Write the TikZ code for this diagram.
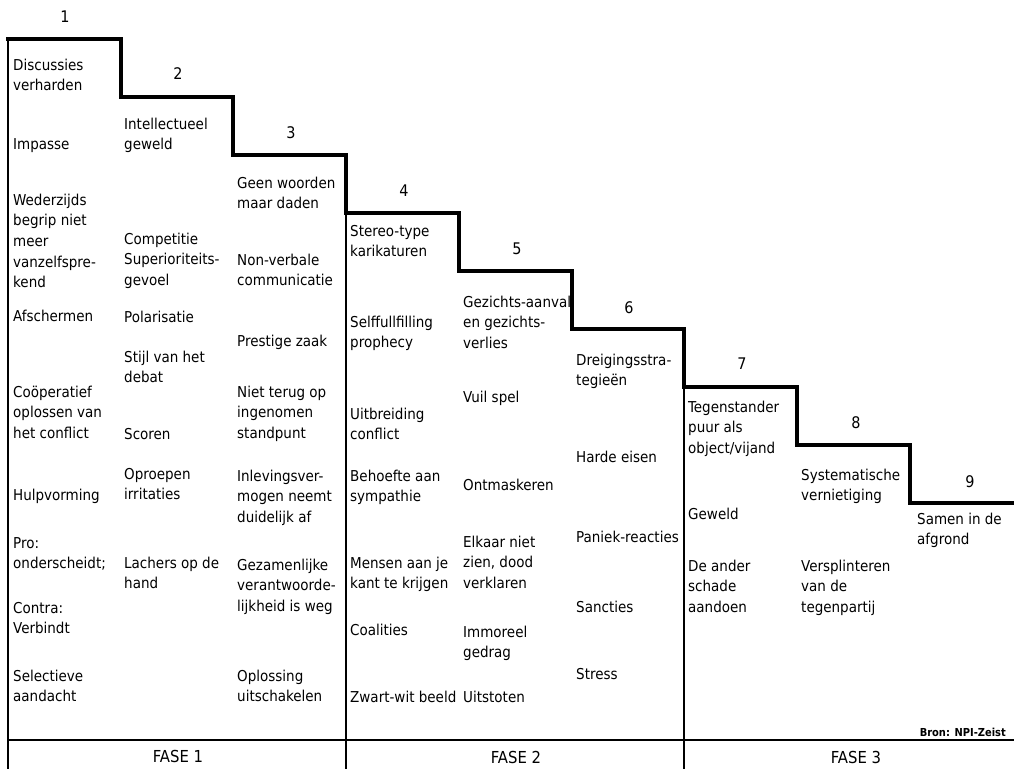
\documentclass[tikz,border=0pt]{standalone}
\usepackage{fontspec}
\setmainfont{DejaVu Sans Condensed}
\begin{document}
\begin{tikzpicture}[x=1pt,y=-1pt,
  itm/.style={anchor=north west,inner sep=0pt,align=left,yshift=9.5pt,
    font=\fontsize{15}{20.7}\selectfont,execute at begin node=\strut},
  num/.style={anchor=center,inner sep=0pt,font=\fontsize{16}{19}\selectfont},
  fase/.style={anchor=center,inner sep=0pt,font=\fontsize{16.5}{19}\selectfont},
  stair/.style={line width=4pt,line join=miter,line cap=rect},
  thin/.style={line width=1.2pt}]
\useasboundingbox (0,0) rectangle (1014,769);
% staircase corners
\coordinate (s0) at (8,39);
\coordinate (s1) at (121,97);
\coordinate (s2) at (233,155);
\coordinate (s3) at (346,213);
\coordinate (s4) at (459,271);
\coordinate (s5) at (572,329);
\coordinate (s6) at (684,387);
\coordinate (s7) at (797,445);
\coordinate (s8) at (910,503);
\coordinate (s9) at (1014,503);
\draw[stair] (s0) -| (s1) -| (s2) -| (s3) -| (s4) -| (s5) -| (s6) -| (s7) -| (s8) -- (s9);
% thin frame lines
\coordinate (b0) at (8,769);
\coordinate (b3) at (346,769);
\coordinate (b6) at (684,769);
\coordinate (hl) at (8,740);
\coordinate (hr) at (1014,740);
\draw[thin] (s0) -- (b0);
\draw[thin] (s3) -- (b3);
\draw[thin] (s6) -- (b6);
\draw[thin] (hl) -- (hr);
% step numbers
\node[num] (n1) at (65,17) {1};
\node[num] (n2) at (178,74) {2};
\node[num] (n3) at (291,133) {3};
\node[num] (n4) at (404,191) {4};
\node[num] (n5) at (517,249) {5};
\node[num] (n6) at (629,308) {6};
\node[num] (n7) at (742,364) {7};
\node[num] (n8) at (856,423) {8};
\node[num] (n9) at (970,482) {9};
% column 1
\node[itm] (c1a) at (13,65) {\strut Discussies\\verharden};
\node[itm] (c1b) at (13,144) {Impasse};
\node[itm] (c1c) at (13,200) {\strut Wederzijds\\begrip niet\\meer\\vanzelfspre-\\kend};
\node[itm] (c1d) at (13,316) {Afschermen};
\node[itm] (c1e) at (13,392) {\strut Coöperatief\\oplossen van\\het conflict};
\node[itm] (c1f) at (13,495) {Hulpvorming};
\node[itm] (c1g) at (13,543) {\strut Pro:\\onderscheidt;};
\node[itm] (c1h) at (13,608) {\strut Contra:\\Verbindt};
\node[itm] (c1i) at (13,676) {\strut Selectieve\\aandacht};
% column 2
\node[itm] (c2a) at (124,124) {\strut Intellectueel\\geweld};
\node[itm] (c2b) at (124,239) {\strut Competitie\\Superioriteits-\\gevoel};
\node[itm] (c2c) at (124,317) {Polarisatie};
\node[itm] (c2d) at (124,357) {\strut Stijl van het\\debat};
\node[itm] (c2e) at (124,434) {Scoren};
\node[itm] (c2f) at (124,474) {\strut Oproepen\\irritaties};
\node[itm] (c2g) at (124,563) {\strut Lachers op de\\hand};
% column 3
\node[itm] (c3a) at (237,183) {\strut Geen woorden\\maar daden};
\node[itm] (c3b) at (237,260) {\strut Non-verbale\\communicatie};
\node[itm] (c3c) at (237,341) {Prestige zaak};
\node[itm] (c3d) at (237,392) {\strut Niet terug op\\ingenomen\\standpunt};
\node[itm] (c3e) at (237,476) {\strut Inlevingsver-\\mogen neemt\\duidelijk af};
\node[itm] (c3f) at (237,565) {\strut Gezamenlijke\\verantwoorde-\\lijkheid is weg};
\node[itm] (c3g) at (237,676) {\strut Oplossing\\uitschakelen};
% column 4
\node[itm] (c4a) at (350,231) {\strut Stereo-type\\karikaturen};
\node[itm] (c4b) at (350,322) {\strut Selffullfilling\\prophecy};
\node[itm] (c4c) at (350,414) {\strut Uitbreiding\\conflict};
\node[itm] (c4d) at (350,476) {\strut Behoefte aan\\sympathie};
\node[itm] (c4e) at (350,563) {\strut Mensen aan je\\kant te krijgen};
\node[itm] (c4f) at (350,630) {Coalities};
\node[itm] (c4g) at (350,697) {Zwart-wit beeld};
% column 5
\node[itm] (c5a) at (463,302) {\strut Gezichts-aanval\\en gezichts-\\verlies};
\node[itm] (c5b) at (463,397) {Vuil spel};
\node[itm] (c5c) at (463,485) {Ontmaskeren};
\node[itm] (c5d) at (463,542) {\strut Elkaar niet\\zien, dood\\verklaren};
\node[itm] (c5e) at (463,632) {\strut Immoreel\\gedrag};
\node[itm] (c5f) at (463,697) {Uitstoten};
% column 6
\node[itm] (c6a) at (576,360) {\strut Dreigingsstra-\\tegieën};
\node[itm] (c6b) at (576,457) {Harde eisen};
\node[itm] (c6c) at (576,537) {Paniek-reacties};
\node[itm] (c6d) at (576,607) {Sancties};
\node[itm] (c6e) at (576,674) {Stress};
% column 7
\node[itm] (c7a) at (688,407) {\strut Tegenstander\\puur als\\object/vijand};
\node[itm] (c7b) at (688,514) {Geweld};
\node[itm] (c7c) at (688,566) {\strut De ander\\schade\\aandoen};
% column 8
\node[itm] (c8a) at (801,475) {\strut Systematische\\vernietiging};
\node[itm] (c8b) at (801,566) {\strut Versplinteren\\van de\\tegenpartij};
% column 9
\node[itm] (c9a) at (917,519) {\strut Samen in de\\afgrond};
% source
\node[anchor=east,inner sep=0pt,font=\fontsize{11}{13}\selectfont\bfseries] (bron) at (1006,732) {Bron: NPI-Zeist};
% phases
\node[fase] (f1) at (178,756) {FASE 1};
\node[fase] (f2) at (516,757) {FASE 2};
\node[fase] (f3) at (856,757) {FASE 3};
\end{tikzpicture}
\end{document}
